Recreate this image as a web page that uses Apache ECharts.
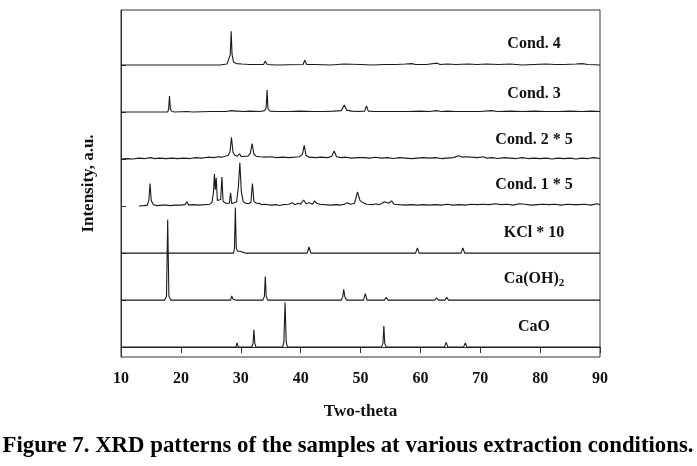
<!DOCTYPE html>
<html>
<head>
<meta charset="utf-8">
<script src="https://cdn.jsdelivr.net/npm/echarts@6/dist/echarts.min.js"></script>
<style>
html,body{margin:0;padding:0;background:#fff;}
#c{width:697px;height:466px;}
</style>
</head>
<body>
<div id="c"></div>
<script>
// ---- data (two-theta, intensity a.u.) ----
const xTicks = [10, 20, 30, 40, 50, 60, 70, 80, 90];
const sampleNames = ['Cond. 4', 'Cond. 3', 'Cond. 2 * 5', 'Cond. 1 * 5', 'KCl * 10', 'Ca(OH)2', 'CaO'];
const offsets = [600, 500, 400, 300, 200, 100, 0];

const cond4 = [[10,0],[17.6,0],[17.9,4],[18.2,0],[26.5,0],[27.7,2],[28.0,6],[28.25,22],[28.4,72],[28.55,22],[28.8,6],[29.3,3],[30.2,2],[31.5,1],[33.8,1],[34.1,8],[34.4,1],[36,0],[40.4,1],[40.7,10],[41.0,1],[42.5,1],[45,0],[47.2,2],[47.5,0],[50,1],[52,0],[54,1],[56,1],[57.5,2],[58.6,3],[59.2,1],[61,1],[62.8,4],[63.3,1],[64.5,2],[66,1],[68,2],[69.5,1],[71,2],[73,1],[75,2],[77,0],[79,1],[81,2],[82.5,1],[84,1],[86,2],[87,3],[88,1],[90,0]];

const cond3 = [[10,0],[17.8,0],[17.95,6],[18.1,34],[18.25,6],[18.5,1],[19,0],[21,1],[22,0],[25,1],[27.5,1],[28.5,3],[28.8,6],[29.1,2],[29.6,2],[30.5,1],[31.5,2],[33.2,1],[34.0,3],[34.25,10],[34.4,47],[34.55,6],[34.9,2],[36,1],[38,1],[40,2],[42,1],[44,1],[45.5,2],[46.8,3],[47.3,15],[47.7,4],[48.5,2],[49.5,1],[50.7,2],[51.0,13],[51.3,2],[52.5,1],[54.2,1],[54.5,5],[54.8,1],[56,1],[58,1],[60,2],[61.5,1],[62.7,3],[63.5,1],[64.5,2],[66,1],[68,1],[70,1],[71.8,3],[73,1],[75,2],[77,1],[79,2],[81,1],[83,1],[85,2],[87,1],[88.5,2],[90,1]];

const cond2 = [[10,0],[11,1],[12,0],[13,2],[14,1],[15,3],[15.5,1],[16.5,2],[17.5,1],[18.5,2],[19.5,1],[20.5,2],[21.5,1],[22.5,3],[23.5,2],[24.5,4],[25.5,3],[26.2,5],[26.8,4],[27.4,6],[27.9,8],[28.2,15],[28.45,46],[28.7,15],[29.0,8],[29.4,6],[29.8,11],[30.1,5],[30.6,6],[31.2,6],[31.6,12],[31.9,33],[32.2,10],[32.6,6],[33.2,5],[34,4],[35,5],[36,3],[37,4],[38,3],[39,4],[39.8,5],[40.3,10],[40.6,29],[40.9,8],[41.4,4],[42.5,3],[43.5,4],[44.5,3],[45.2,6],[45.6,17],[46.0,5],[46.8,3],[47.5,4],[48.5,2],[49.5,3],[50.2,3],[50.4,7],[50.7,3],[51.5,2],[52.5,4],[53.5,2],[54.5,3],[55.5,1],[56.5,3],[57.5,2],[58.5,1],[59.5,2],[60.5,3],[61.5,2],[62.5,3],[63.5,1],[64.5,2],[65.5,3],[66.4,7],[67.0,4],[67.8,5],[68.5,4],[69.5,3],[70.5,5],[71.0,2],[72,3],[73,1],[74,3],[75,2],[76,1],[77,3],[78,1],[79,2],[80,1],[81,2],[82,0],[83,2],[84,1],[85,2],[86,0],[87,2],[88,1],[89,3],[90,1]];

const cond1 = [[13.0,0],[13.8,1],[14.4,2],[14.65,12],[14.85,48],[15.05,12],[15.4,3],[16.0,1],[17.0,2],[17.6,2],[17.9,4],[18.2,1],[19.0,2],[20.0,2],[20.7,3],[21.0,9],[21.3,2],[22.0,3],[23.0,2],[24.0,3],[24.8,4],[25.2,8],[25.45,30],[25.6,68],[25.75,35],[25.9,60],[26.1,12],[26.4,8],[26.65,14],[26.85,62],[27.05,10],[27.5,6],[27.8,4],[28.1,6],[28.3,28],[28.5,5],[28.8,6],[29.3,9],[29.6,40],[29.85,92],[30.1,30],[30.4,10],[30.8,6],[31.3,5],[31.7,8],[31.95,48],[32.2,10],[32.6,6],[33.1,6],[33.5,3],[34.0,4],[35.0,2],[36.0,3],[36.5,1],[37.0,3],[38.0,4],[38.6,7],[39.0,3],[39.6,6],[40.0,4],[40.5,13],[40.9,5],[41.4,7],[42.0,4],[42.3,11],[42.7,6],[43.2,4],[44.0,3],[45.0,2],[46.0,3],[46.5,2],[47.3,4],[47.8,7],[48.3,4],[49.0,6],[49.5,30],[49.9,12],[50.3,8],[51.0,4],[52.0,3],[52.6,5],[53.0,3],[53.5,5],[54.0,9],[54.3,11],[54.7,6],[55.2,11],[55.6,4],[56.5,3],[57.5,2],[58.5,3],[59.5,2],[60.5,3],[61.5,2],[62.5,3],[63.5,2],[64.5,4],[65.5,2],[66.5,3],[67.5,2],[68.5,4],[69.5,3],[70.5,4],[71.5,3],[72.5,5],[73.5,3],[74.5,4],[75.5,2],[76.5,5],[77.5,4],[78.5,2],[79.5,3],[80.5,4],[81.5,3],[82.5,4],[83.5,2],[84.5,4],[85.5,3],[86.5,3],[87.5,4],[88.5,2],[89.5,5],[90,3]];

const kcl = [[10,0],[14.5,0],[14.7,2],[14.9,0],[15.8,0],[16.0,2],[16.2,0],[16.5,2],[16.7,0],[28.8,0],[28.95,10],[29.1,97],[29.25,10],[29.5,4],[29.9,4],[30.3,2],[30.8,0],[41.1,0],[41.4,13],[41.7,0],[49.6,0],[49.7,2],[49.8,0],[50.7,0],[50.8,2],[50.9,0],[59.2,0],[59.5,11],[59.8,0],[66.8,0],[67.1,11],[67.4,0],[74.1,0],[74.4,4],[74.7,0],[88.2,0],[88.4,4],[88.6,0],[90,0]];

const caoh2 = [[10,0],[17.3,0],[17.6,8],[17.8,171],[18.0,8],[18.3,0],[28.3,0],[28.5,9],[28.7,2],[28.9,6],[29.1,0],[33.7,0],[33.95,8],[34.1,50],[34.25,8],[34.5,0],[46.8,0],[47.05,8],[47.2,23],[47.4,6],[47.7,0],[50.5,0],[50.8,14],[51.1,0],[54.0,0],[54.3,6],[54.6,0],[56.2,0],[56.4,2],[56.6,0],[62.4,0],[62.7,5],[63.0,0],[64.1,0],[64.4,6],[64.7,0],[71.5,0],[71.8,2],[72.1,0],[84.5,0],[84.8,4],[85.1,0],[90,0]];

const cao = [[10,0],[17.6,0],[17.9,2],[18.2,0],[29.2,0],[29.4,9],[29.6,0],[31.85,0],[32.05,8],[32.2,37],[32.35,8],[32.55,0],[33.9,0],[34.1,3],[34.3,0],[37.0,0],[37.2,10],[37.4,95],[37.6,10],[37.8,0],[53.5,0],[53.75,8],[53.9,45],[54.05,8],[54.3,0],[64.0,0],[64.3,10],[64.6,0],[67.2,0],[67.5,9],[67.8,0],[79.5,0],[79.8,4],[80.1,0],[88.4,0],[88.7,4],[89.0,0],[90,0]];

const patterns = [cond4, cond3, cond2, cond1, kcl, caoh2, cao];

// ---- chart ----
const FONT = '"Liberation Serif", "Times New Roman", serif';
const chart = echarts.init(document.getElementById('c'), null, {renderer: 'canvas'});

const series = patterns.map((p, i) => ({
  name: sampleNames[i],
  type: 'line',
  data: p.map(d => [d[0], d[1] + offsets[i]]),
  showSymbol: false,
  symbol: 'none',
  lineStyle: {color: '#1a1a1a', width: 1.1},
  animation: false,
  z: 3
}));

const labelY = [44, 94, 140, 185, 233, 279, 327];
const graphics = sampleNames.map((n, i) => ({
  type: 'text',
  x: 534, y: labelY[i],
  style: n === 'Ca(OH)2' ? {
    text: '{m|Ca(OH)}{s|2}',
    rich: {
      m: {fontFamily: FONT, fontWeight: 'bold', fontSize: 16, fill: '#111'},
      s: {fontFamily: FONT, fontWeight: 'bold', fontSize: 11, fill: '#111', padding: [8, 0, 0, 0]}
    },
    align: 'center', verticalAlign: 'middle'
  } : {
    text: n, fontFamily: FONT, fontWeight: 'bold', fontSize: 16, fill: '#111',
    align: 'center', verticalAlign: 'middle'
  },
  z: 10
}));
graphics.push({
  type: 'text', x: 348, y: 446, scaleX: 0.97,
  style: {
    text: 'Figure 7. XRD patterns of the samples at various extraction conditions.',
    fontFamily: FONT, fontWeight: 'bold', fontSize: 23.5, fill: '#000',
    align: 'center', verticalAlign: 'middle'
  },
  z: 10
});

chart.setOption({
  animation: false,
  backgroundColor: '#fff',
  grid: {left: 121, right: 97, top: 10, bottom: 109, show: true, borderColor: '#333', borderWidth: 1, containLabel: false},
  xAxis: {
    type: 'value', min: 10, max: 90, interval: 10,
    name: 'Two-theta', nameLocation: 'middle', nameGap: 46,
    nameTextStyle: {fontFamily: FONT, fontWeight: 'bold', fontSize: 17, color: '#111'},
    axisLine: {show: true, lineStyle: {color: '#333', width: 1}},
    axisTick: {show: true, inside: false, length: 6, lineStyle: {color: '#333'}},
    axisLabel: {fontFamily: FONT, fontWeight: 'bold', fontSize: 16, color: '#111', margin: 14,
      customValues: xTicks},
    splitLine: {show: false}
  },
  yAxis: {
    type: 'value', min: -21, max: 717,
    name: 'Intensity, a.u.', nameLocation: 'middle', nameGap: 24, nameRotate: 90,
    nameTextStyle: {fontFamily: FONT, fontWeight: 'bold', fontSize: 17, color: '#111'},
    axisLine: {show: true, lineStyle: {color: '#333', width: 1}},
    axisTick: {show: true, inside: true, length: 5, lineStyle: {color: '#333'}, customValues: offsets},
    axisLabel: {show: false},
    splitLine: {show: false}
  },
  series: series,
  graphic: graphics
});
</script>
</body>
</html>
